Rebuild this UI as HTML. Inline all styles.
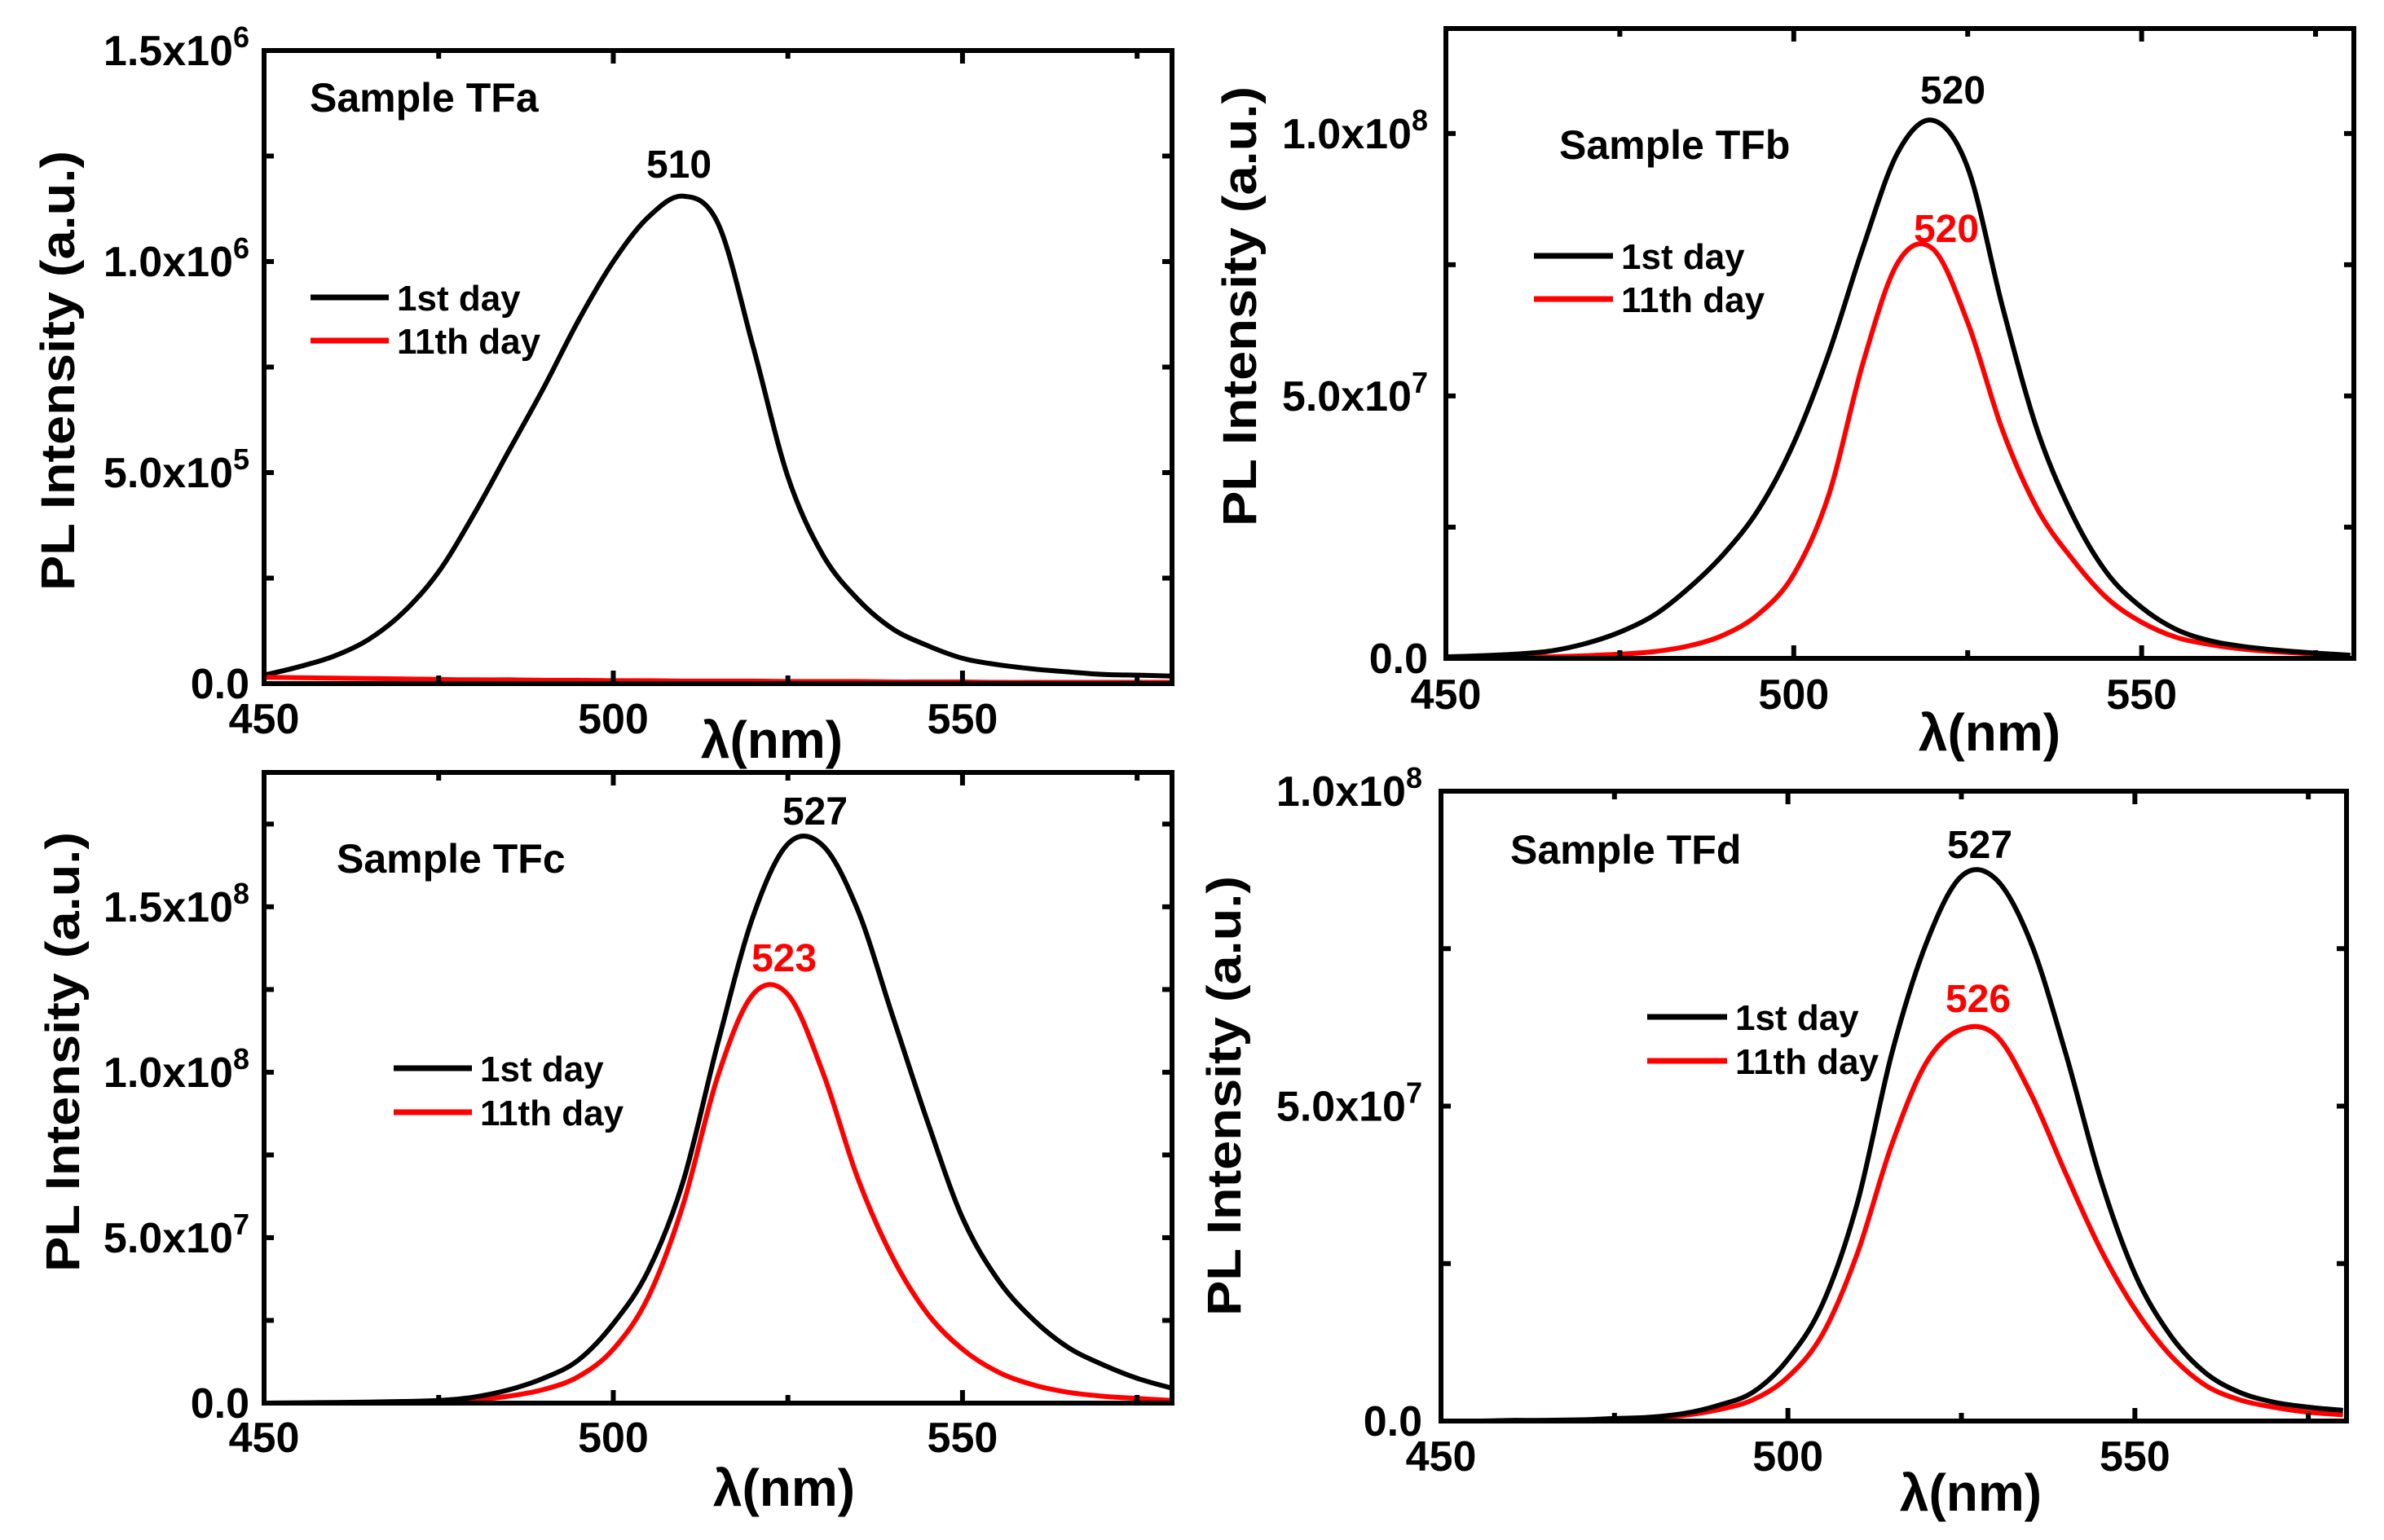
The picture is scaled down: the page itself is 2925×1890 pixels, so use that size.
<!DOCTYPE html>
<html><head><meta charset="utf-8"><style>
html,body{margin:0;padding:0;background:#fff;}
svg{display:block;font-family:"Liberation Sans",Arial,sans-serif;font-weight:bold;}
</style></head><body>
<svg id="fig" xmlns="http://www.w3.org/2000/svg" width="2925" height="1890" viewBox="0 0 2925 1890"></svg>
<script>
// ---- data (wavelength nm, intensity in panel units) ----
const wavelengths = [450,455,460,465,470,475,480,485,490,495,500,505,510,515,520,525,530,535,540,545,550,555,560,565,570,575,580];
const tfaDay1 = [0.02,0.04,0.065,0.105,0.17,0.265,0.40,0.55,0.70,0.86,1.0,1.105,1.155,1.09,0.80,0.49,0.305,0.20,0.13,0.09,0.06,0.045,0.035,0.028,0.022,0.02,0.018];
const tfaDay11 = [0.015,0.014,0.013,0.012,0.011,0.010,0.009,0.009,0.008,0.008,0.007,0.007,0.006,0.006,0.006,0.005,0.005,0.005,0.004,0.004,0.004,0.003,0.003,0.003,0.003,0.003,0.003];

const tfbDay1 = [0.003,0.005,0.008,0.014,0.028,0.05,0.083,0.135,0.20,0.285,0.41,0.58,0.785,0.965,1.025,0.935,0.67,0.435,0.275,0.163,0.097,0.055,0.033,0.022,0.015,0.01,0.006];
const tfbDay11 = [0.001,0.001,0.002,0.003,0.005,0.008,0.013,0.024,0.045,0.085,0.16,0.31,0.565,0.755,0.78,0.64,0.435,0.285,0.19,0.115,0.069,0.04,0.026,0.017,0.012,0.008,0.005];

const tfcDay1 = [0,0.001,0.002,0.003,0.005,0.008,0.018,0.04,0.075,0.13,0.24,0.40,0.67,1.09,1.47,1.69,1.685,1.49,1.17,0.85,0.56,0.375,0.255,0.17,0.117,0.075,0.045];
const tfcDay11 = [0,0,0.001,0.002,0.003,0.005,0.01,0.021,0.041,0.08,0.163,0.32,0.60,0.99,1.235,1.235,1.0,0.68,0.44,0.27,0.163,0.095,0.056,0.033,0.021,0.014,0.008];

const tfdDay1 = [0,0,0.001,0.001,0.002,0.004,0.006,0.012,0.025,0.046,0.098,0.186,0.346,0.585,0.76,0.865,0.86,0.76,0.585,0.386,0.234,0.138,0.078,0.046,0.03,0.022,0.017];
const tfdDay11 = [0,0,0,0.001,0.001,0.002,0.005,0.009,0.018,0.034,0.07,0.138,0.266,0.44,0.57,0.622,0.612,0.52,0.394,0.274,0.178,0.106,0.058,0.034,0.022,0.014,0.01];

const xTicks = [450,500,550];
const yTicksA = [0,0.5,1.0,1.5];
const yLabelsA = [["0.0",""],["5.0x10","5"],["1.0x10","6"],["1.5x10","6"]];
const yTicksB = [0,0.5,1.0];
const yLabelsB = [["0.0",""],["5.0x10","7"],["1.0x10","8"]];
const yTicksC = [0,0.5,1.0,1.5];
const yLabelsC = [["0.0",""],["5.0x10","7"],["1.0x10","8"],["1.5x10","8"]];
const yTicksD = [0,0.5,1.0];
const yLabelsD = [["0.0",""],["5.0x10","7"],["1.0x10","8"]];

const NS="http://www.w3.org/2000/svg";
const svg=document.getElementById('fig');
function mk(tag,attrs,parent){const e=document.createElementNS(NS,tag);for(const k in attrs)e.setAttribute(k,attrs[k]);(parent||svg).appendChild(e);return e;}

function smoothPath(pts){
  let d='M'+pts[0][0].toFixed(1)+','+pts[0][1].toFixed(1);
  for(let i=0;i<pts.length-1;i++){
    const p0=pts[i-1]||pts[i],p1=pts[i],p2=pts[i+1],p3=pts[i+2]||p2;
    const c1x=p1[0]+(p2[0]-p0[0])/6,c1y=p1[1]+(p2[1]-p0[1])/6;
    const c2x=p2[0]-(p3[0]-p1[0])/6,c2y=p2[1]-(p3[1]-p1[1])/6;
    d+=' C'+c1x.toFixed(1)+','+c1y.toFixed(1)+' '+c2x.toFixed(1)+','+c2y.toFixed(1)+' '+p2[0].toFixed(1)+','+p2[1].toFixed(1);
  }
  return d;
}

function panel(cfg){
  const g=mk('g',{});
  
  
  const L=cfg.L,R=cfg.R,T=cfg.T,B=cfg.B;
  const xs=v=>L+(v-450)/(cfg.xmax-450)*(R-L);
  const ys=v=>B-v/cfg.ymax*(B-T);
  const series=[[cfg.d11,'#ff0000','day11-curve'],[cfg.d1,'#000000','day1-curve']];
  if(cfg.redOnTop) series.reverse();
  series.forEach(s=>{
    const pts=wavelengths.map((w,i)=>[xs(w),ys(s[0][i])]);
    const p=mk('path',{d:smoothPath(pts),fill:'none',stroke:s[1],'stroke-width':6,'stroke-linejoin':'round'},g);
    
    
  });
  const fr=mk('rect',{x:L,y:T,width:R-L,height:B-T,fill:'none',stroke:'#000','stroke-width':6},g);
  
  
  for(let w=450;w<=cfg.xmax;w+=25){
    const x=xs(w);const len=(w%50===0)?16:10;
    mk('line',{x1:x,y1:B,x2:x,y2:B-len,stroke:'#000','stroke-width':6},g);
    mk('line',{x1:x,y1:T,x2:x,y2:T+len,stroke:'#000','stroke-width':6},g);
  }
  for(let v=0;v<=cfg.ymax+1e-9;v+=cfg.ystep/2){
    const y=ys(v);
    mk('line',{x1:L,y1:y,x2:L+12,y2:y,stroke:'#000','stroke-width':6},g);
    mk('line',{x1:R,y1:y,x2:R-12,y2:y,stroke:'#000','stroke-width':6},g);
  }
  xTicks.forEach(w=>{
    const t=mk('text',{x:xs(w),y:cfg.xlabY,'font-size':52,'text-anchor':'middle'},g);
    t.textContent=w;
    
    
  });
  cfg.yt.forEach((v,i)=>{
    const lab=cfg.yl[i];
    const t=mk('text',{x:cfg.ylabX,y:ys(v)+18,'font-size':52,'text-anchor':'end'},g);
    
    
    const a=mk('tspan',{},t);a.textContent=lab[0];
    if(lab[1]){const b=mk('tspan',{dy:-22,'font-size':36},t);b.textContent=lab[1];}
  });
  const xt=mk('text',{x:cfg.xtX,y:cfg.xtY,'font-size':64,'text-anchor':'middle'},g);
  xt.textContent='λ(nm)';
  
  
  const yt=mk('text',{x:0,y:0,'font-size':58,'text-anchor':'middle',textLength:540,lengthAdjust:'spacingAndGlyphs',transform:'translate('+(cfg.ytX+20)+','+cfg.ytY+') rotate(-90)'},g);
  yt.textContent='PL Intensity (a.u.)';
  
  
  const st=mk('text',{x:cfg.sX,y:cfg.sY,'font-size':50},g);
  st.textContent=cfg.sample;
  
  
  cfg.peaks.forEach(pk=>{
    const t=mk('text',{x:pk[0],y:pk[1],'font-size':48,'text-anchor':'middle',fill:pk[3]},g);
    t.textContent=pk[2];
    
    
  });
  [['1st day','#000',cfg.lgY1],['11th day','#ff0000',cfg.lgY2]].forEach(e=>{
    const lg=mk('g',{},g);
    
    
    mk('line',{x1:cfg.lgX1,y1:e[2],x2:cfg.lgX2,y2:e[2],stroke:e[1],'stroke-width':7},lg);
    const t=mk('text',{x:cfg.lgX2+10,y:e[2]+16,'font-size':44},lg);
    t.textContent=e[0];
  });
}

panel({name:'panel-tfa',L:324,R:1438,T:62,B:839,xmax:580,ymax:1.5,ystep:0.5,d1:tfaDay1,d11:tfaDay11,
  yt:yTicksA,yl:yLabelsA,ylabX:306,xlabY:900,xtX:947,xtY:930,ytX:71,ytY:455,sample:'Sample TFa',sX:380,sY:137,
  peaks:[[833,218,'510','#000']],lgX1:381,lgX2:477,lgY1:365,lgY2:418,redOnTop:true});
panel({name:'panel-tfb',L:1774,R:2888,T:35,B:808,xmax:580.5,ymax:1.2,ystep:0.5,d1:tfbDay1,d11:tfbDay11,
  yt:yTicksB,yl:yLabelsB,ylabX:1752,xlabY:870,xtX:2441,xtY:921,ytX:1521,ytY:376,sample:'Sample TFb',sX:1913,sY:195,
  peaks:[[2396,127,'520','#000'],[2388,297,'520','#ff0000']],lgX1:1882,lgX2:1979,lgY1:314,lgY2:367});
panel({name:'panel-tfc',L:324,R:1438,T:948,B:1722,xmax:580,ymax:1.906,ystep:0.5,d1:tfcDay1,d11:tfcDay11,
  yt:yTicksC,yl:yLabelsC,ylabX:306,xlabY:1782,xtX:962,xtY:1848,ytX:77,ytY:1291,sample:'Sample TFc',sX:413,sY:1071,
  peaks:[[1000,1012,'527','#000'],[962,1192,'523','#ff0000']],lgX1:483,lgX2:579,lgY1:1311,lgY2:1365});
panel({name:'panel-tfd',L:1768,R:2879,T:971,B:1744,xmax:580.5,ymax:1.0,ystep:0.5,d1:tfdDay1,d11:tfdDay11,
  yt:yTicksD,yl:yLabelsD,ylabX:1745,xlabY:1805,xtX:2418,xtY:1854,ytX:1502,ytY:1345,sample:'Sample TFd',sX:1853,sY:1060,
  peaks:[[2429,1053,'527','#000'],[2427,1242,'526','#ff0000']],lgX1:2021,lgX2:2119,lgY1:1248,lgY2:1302});
</script>
</body></html>
